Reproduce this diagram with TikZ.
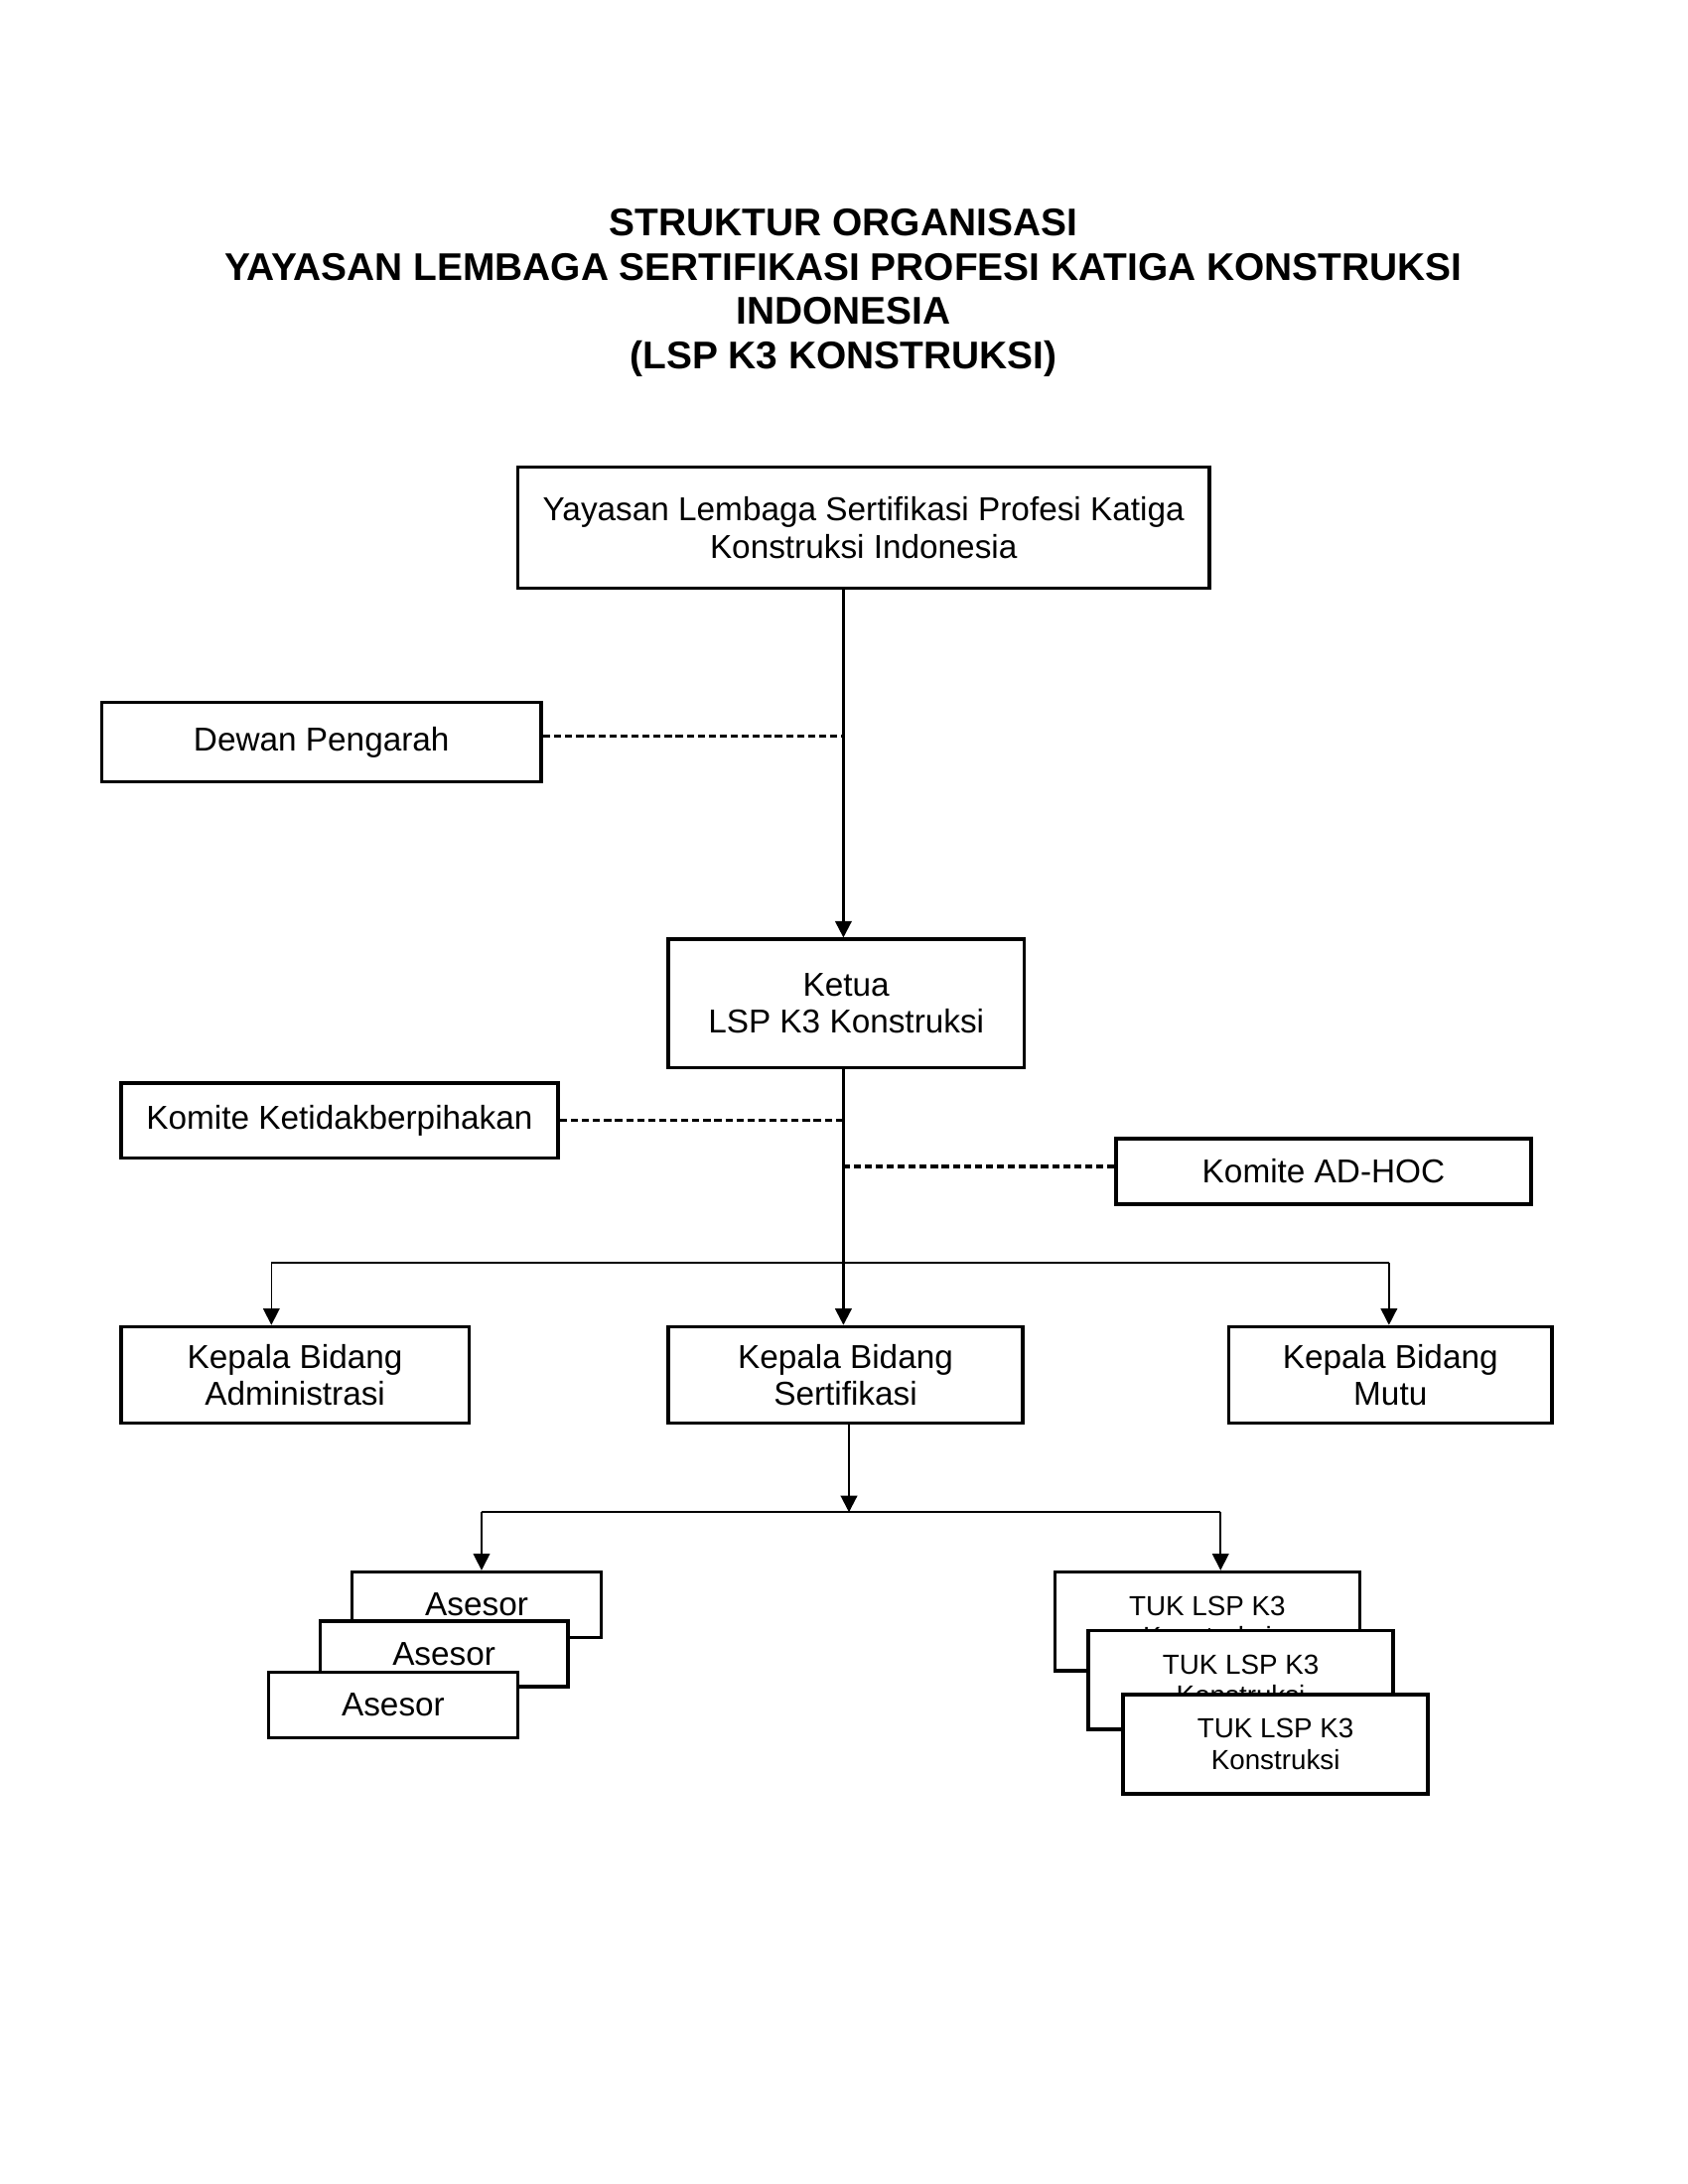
\documentclass[tikz,border=0pt]{standalone}
\usepackage{fontspec}
\setmainfont{Liberation Sans}
\usetikzlibrary{arrows.meta}
\tikzset{
  sz/.style n args={2}{minimum width=#1*0.5046pt, minimum height=#2*0.5054pt},
  box/.style={draw, line width=1.3pt, fill=white, align=center, inner sep=0pt,
    font=\fontsize{12}{13.5}\selectfont},
  smallbox/.style={box, font=\fontsize{10}{11.5}\selectfont},
  conn/.style={line width=0.55pt},
  spineline/.style={line width=0.8pt, -{Triangle[length=6pt,width=6pt]}},
  arr/.style={conn, -{Triangle[length=6pt,width=6pt]}},
  dashconn/.style={line width=1.1pt, dash pattern=on 2.6pt off 1.4pt}
}
\begin{document}
\begin{tikzpicture}[x=0.5046pt,y=-0.5054pt]
\fill[white] (0pt,0pt) rectangle (612pt,-792pt);
\useasboundingbox (0pt,0pt) rectangle (612pt,-792pt);

\node[align=center, font=\fontsize{14}{16}\selectfont\bfseries] (title) at (606,210)
  {STRUKTUR ORGANISASI\\YAYASAN LEMBAGA SERTIFIKASI PROFESI KATIGA KONSTRUKSI\\INDONESIA\\(LSP K3 KONSTRUKSI)};

\node[box, sz={497}{87}] (top) at (620.5,378.5)
  {Yayasan Lembaga Sertifikasi Profesi Katiga\\Konstruksi Indonesia};
\node[box, sz={316}{57}] (dewan) at (231,532.5) {Dewan Pengarah};
\node[box, sz={256}{92}] (ketua) at (608,720) {Ketua\\LSP K3 Konstruksi};
\node[box, sz={314}{54}] (komk) at (244,804) {Komite Ketidakberpihakan};
\node[box, sz={298}{47}] (adhoc) at (951,840.5) {Komite AD-HOC};
\node[box, sz={250}{69}] (admin) at (212,986.5) {Kepala Bidang\\Administrasi};
\node[box, sz={255}{69}] (sert) at (607.5,986.5) {Kepala Bidang\\Sertifikasi};
\node[box, sz={232}{69}] (mutu) at (999,986.5) {Kepala Bidang\\Mutu};

\coordinate (spine) at (606,0);
\coordinate (bA) at (195,906);
\coordinate (bM) at (998,906);
\coordinate (b2) at (610,1085);
\coordinate (b2L) at (346,1085);
\coordinate (b2R) at (877,1085);
\coordinate (dwE) at ([yshift=2.3pt]dewan.east);
\coordinate (ahW) at ([yshift=1.8pt]adhoc.west);

% connectors
\draw[spineline] (top.south -| spine) -- (spine |- ketua.north);
\draw[dashconn] (dwE) -- (dwE -| spine);
\draw[spineline] (ketua.south -| spine) -- (spine |- sert.north);
\draw[dashconn] (komk.east) -- (komk.east -| spine);
\draw[dashconn] (ahW) -- (ahW -| spine);
\draw[conn] (bA) -- (bM);
\draw[arr] (bA) -- (bA |- admin.north);
\draw[arr] (bM) -- (bM |- mutu.north);
\draw[spineline] (sert.south -| b2) -- (b2);
\draw[conn] (b2L) -- (b2R);

% Asesor stack
\node[box, sz={179}{47}] (as1) at (342.5,1151.5) {Asesor};
\node[box, sz={178}{47}] (as2) at (319,1186.5) {Asesor};
\node[box, sz={179}{47}] (as3) at (282.5,1223.5) {Asesor};

% TUK stack
\node[smallbox, sz={219}{71}] (tuk1) at (867.5,1163.5) {TUK LSP K3\\Konstruksi};
\node[smallbox, sz={219}{71}] (tuk2) at (891.5,1205.5) {TUK LSP K3\\Konstruksi};
\node[smallbox, sz={219}{71}] (tuk3) at (916.5,1251.5) {TUK LSP K3\\Konstruksi};

\draw[arr] (b2L) -- (b2L |- as1.north);
\draw[arr] (b2R) -- (b2R |- tuk1.north);
\end{tikzpicture}
\end{document}
